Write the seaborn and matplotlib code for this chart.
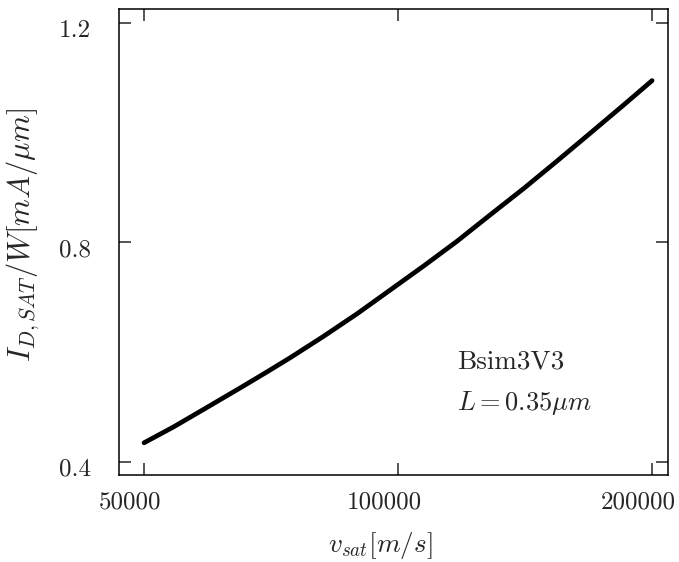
import matplotlib
matplotlib.use("Agg")
import matplotlib.pyplot as plt
import matplotlib.ticker as mticker
import matplotlib.transforms as mtrans
import pandas as pd
import seaborn as sns

# values
v_sat = [50000, 54200, 59300, 65000, 69900, 74500, 81600, 89400, 97800,
         107200, 117400, 128500, 140800, 154200, 168900, 184900, 200000]
i_dsat = [0.435, 0.464, 0.499, 0.535, 0.564, 0.590, 0.629, 0.670, 0.713,
          0.757, 0.802, 0.850, 0.898, 0.948, 0.999, 1.050, 1.095]

x_ticks = [50000, 100000, 200000]
y_ticks = [0.4, 0.8, 1.2]

df = pd.DataFrame({'v_sat': v_sat, 'i_dsat': i_dsat})

sns.set_style('ticks')
plt.rcParams['font.family'] = ['cmr10', 'DejaVu Serif']
plt.rcParams['mathtext.fontset'] = 'cm'
plt.rcParams['axes.formatter.use_mathtext'] = True

fig = plt.figure(figsize=(6.79, 5.62), dpi=100)
ax = fig.add_axes([0.1753, 0.1548, 0.8085, 0.8287])

sns.lineplot(data=df, x='v_sat', y='i_dsat', ax=ax, color='black',
             linewidth=3.4, solid_capstyle='round')

ax.set_xscale('log')
ax.set_xlim(46700, 208900)
ax.set_ylim(0.3763, 1.225)
ax.xaxis.set_major_locator(mticker.FixedLocator(x_ticks))
ax.xaxis.set_major_formatter(mticker.FixedFormatter([str(t) for t in x_ticks]))
ax.xaxis.set_minor_locator(mticker.NullLocator())
ax.set_yticks(y_ticks)
ax.set_yticklabels([str(t) for t in y_ticks])

ax.tick_params(direction='in', length=8.5, width=1.1, top=True, right=True,
               labelsize=18)
ax.tick_params(axis='x', pad=12)
ax.tick_params(axis='y', pad=20)
for s in ax.spines.values():
    s.set_linewidth(1.1)
    s.set_color('black')

# the scanned labels sit a little off their ticks
shift_x = mtrans.ScaledTranslation(-14 / 100, 0, fig.dpi_scale_trans)
for lab in ax.get_xticklabels():
    lab.set_transform(lab.get_transform() + shift_x)
shift_y = mtrans.ScaledTranslation(0, -5 / 100, fig.dpi_scale_trans)
for lab in ax.get_yticklabels():
    lab.set_transform(lab.get_transform() + shift_y)

ax.set_xlabel(r'$v_{sat}[m/s]$', fontsize=19.5)
ax.set_ylabel(r'$I_{D,SAT}/W[mA/\mu m]$', fontsize=22)
ax.xaxis.set_label_coords(0.476, -0.118)
ax.yaxis.set_label_coords(-0.141, 0.515)

ax.text(0.616, 0.2425, 'Bsim3V3', transform=ax.transAxes, fontsize=19.5, va='center')
ax.text(0.616, 0.1545, r'$L=0.35\mu m$', transform=ax.transAxes, fontsize=19, va='center')

fig.savefig('out.png', dpi=100)
